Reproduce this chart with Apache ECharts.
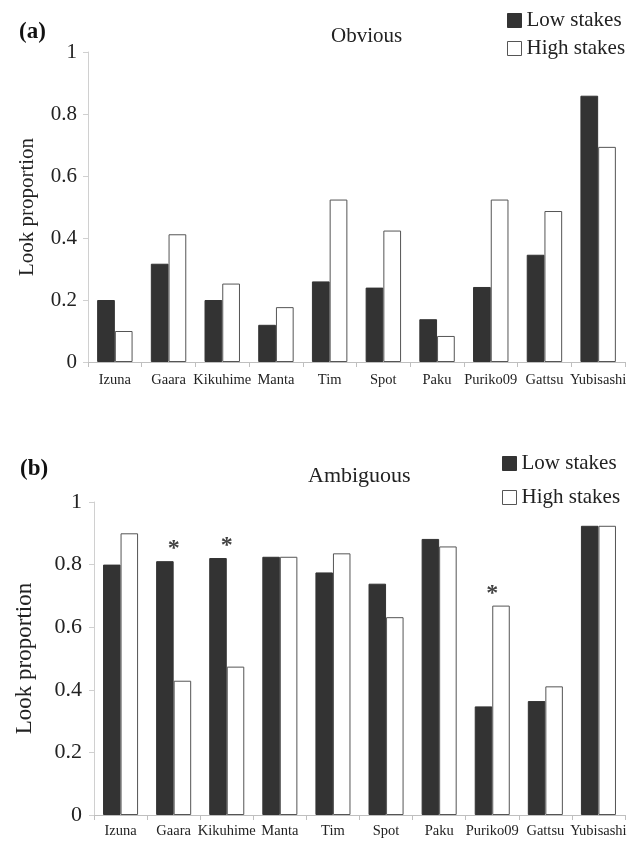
<!DOCTYPE html>
<html>
<head>
<meta charset="utf-8">
<script src="https://cdn.jsdelivr.net/npm/echarts@6/dist/echarts.min.js"></script>
<style>
  html, body { margin: 0; padding: 0; background: #fff; }
  #chart { width: 635px; height: 845px; }
</style>
</head>
<body>
<div id="chart"></div>
<script>
// chimp names along the x axis
var categories = ['Izuna', 'Gaara', 'Kikuhime', 'Manta', 'Tim', 'Spot', 'Paku', 'Puriko09', 'Gattsu', 'Yubisashi'];

// (a) obvious condition
var obviousLow  = [0.20, 0.317, 0.20, 0.12, 0.26, 0.24, 0.138, 0.242, 0.346, 0.859];
var obviousHigh = [0.10, 0.412, 0.253, 0.177, 0.524, 0.424, 0.084, 0.524, 0.487, 0.694];

// (b) ambiguous condition
var ambiguousLow  = [0.80, 0.811, 0.821, 0.825, 0.775, 0.739, 0.882, 0.347, 0.364, 0.924];
var ambiguousHigh = [0.90, 0.429, 0.474, 0.825, 0.836, 0.632, 0.858, 0.669, 0.411, 0.924];
var ambiguousSig  = ['', '*', '*', '', '', '', '', '*', '', ''];

var yTicks = [0, 0.2, 0.4, 0.6, 0.8, 1];

var serif = 'Liberation Serif, Times New Roman, serif';
var dark = '#333333';

var sigData = [];
categories.forEach(function (c, i) {
    if (ambiguousSig[i]) {
        sigData.push({ value: [c, Math.max(ambiguousLow[i], ambiguousHigh[i])], label: { formatter: ambiguousSig[i] } });
    }
});

function xAxisFor(gridIndex, fontSize, margin) {
    return {
        type: 'category',
        gridIndex: gridIndex,
        data: categories,
        axisLine: { lineStyle: { color: '#bfbfbf', width: 1 } },
        axisTick: { show: true, length: 5, lineStyle: { color: '#bfbfbf' } },
        axisLabel: { interval: 0, color: '#222', fontFamily: serif, fontSize: fontSize, margin: margin }
    };
}

function yAxisFor(gridIndex, fontSize, nameSize, nameGap, margin) {
    return {
        type: 'value',
        gridIndex: gridIndex,
        min: yTicks[0],
        max: yTicks[yTicks.length - 1],
        interval: 0.2,
        name: 'Look proportion',
        nameLocation: 'middle',
        nameGap: nameGap,
        nameTextStyle: { color: '#222', fontFamily: serif, fontSize: nameSize },
        axisLine: { show: true, lineStyle: { color: '#d0d0d0', width: 1 } },
        axisTick: { show: true, length: 5, lineStyle: { color: '#d0d0d0' } },
        splitLine: { show: false },
        axisLabel: { color: '#222', fontFamily: serif, fontSize: fontSize, margin: margin }
    };
}

var lowStyle = { color: dark, borderColor: dark, borderWidth: 1 };
var highStyle = { color: '#ffffff', borderColor: '#555555', borderWidth: 1 };

function legendFor(left, top, gap) {
    return {
        orient: 'vertical',
        left: left,
        top: top,
        itemWidth: 14,
        itemHeight: 14,
        itemGap: gap,
        icon: 'rect',
        textStyle: { color: '#222', fontFamily: serif, fontSize: 21 },
        data: [
            { name: 'Low stakes', itemStyle: lowStyle },
            { name: 'High stakes', itemStyle: highStyle }
        ]
    };
}

var chart = echarts.init(document.getElementById('chart'), null, { renderer: 'canvas' });

var option = {
    backgroundColor: '#ffffff',
    animation: false,
    title: [
        { text: '(a)', left: 14, top: 16, textStyle: { fontFamily: serif, fontWeight: 'bold', fontSize: 23, color: '#111' } },
        { text: 'Obvious', left: 326, top: 21, textStyle: { fontFamily: serif, fontWeight: 'normal', fontSize: 21, color: '#222' } },
        { text: '(b)', left: 15, top: 453, textStyle: { fontFamily: serif, fontWeight: 'bold', fontSize: 23, color: '#111' } },
        { text: 'Ambiguous', left: 303, top: 460, textStyle: { fontFamily: serif, fontWeight: 'normal', fontSize: 22, color: '#222' } }
    ],
    legend: [
        legendFor(502, 5, 7),
        legendFor(497, 448, 13)
    ],
    grid: [
        { left: 88, right: 10, top: 52, height: 310 },
        { left: 94, right: 10, top: 502, height: 313 }
    ],
    xAxis: [
        xAxisFor(0, 14.5, 11),
        xAxisFor(1, 14.5, 9)
    ],
    yAxis: [
        yAxisFor(0, 21, 21, 50, 11),
        yAxisFor(1, 22, 23, 58, 12)
    ],
    series: [
        { name: 'Low stakes', type: 'bar', xAxisIndex: 0, yAxisIndex: 0, data: obviousLow,
          barGap: '0%', barCategoryGap: '34%', itemStyle: lowStyle },
        { name: 'High stakes', type: 'bar', xAxisIndex: 0, yAxisIndex: 0, data: obviousHigh,
          barGap: '0%', barCategoryGap: '34%', itemStyle: highStyle },
        { name: 'Low stakes', type: 'bar', xAxisIndex: 1, yAxisIndex: 1, data: ambiguousLow,
          barGap: '0%', barCategoryGap: '34%', itemStyle: lowStyle },
        { name: 'High stakes', type: 'bar', xAxisIndex: 1, yAxisIndex: 1, data: ambiguousHigh,
          barGap: '0%', barCategoryGap: '34%', itemStyle: highStyle },
        { name: 'sig', type: 'scatter', xAxisIndex: 1, yAxisIndex: 1, data: sigData,
          symbolSize: 0, itemStyle: { color: 'rgba(0,0,0,0)' }, z: 5,
          label: { show: true, position: 'top', distance: 0, color: '#111',
                   fontFamily: serif, fontWeight: 'bold', fontSize: 24 } }
    ]
};

chart.setOption(option);
</script>
</body>
</html>
